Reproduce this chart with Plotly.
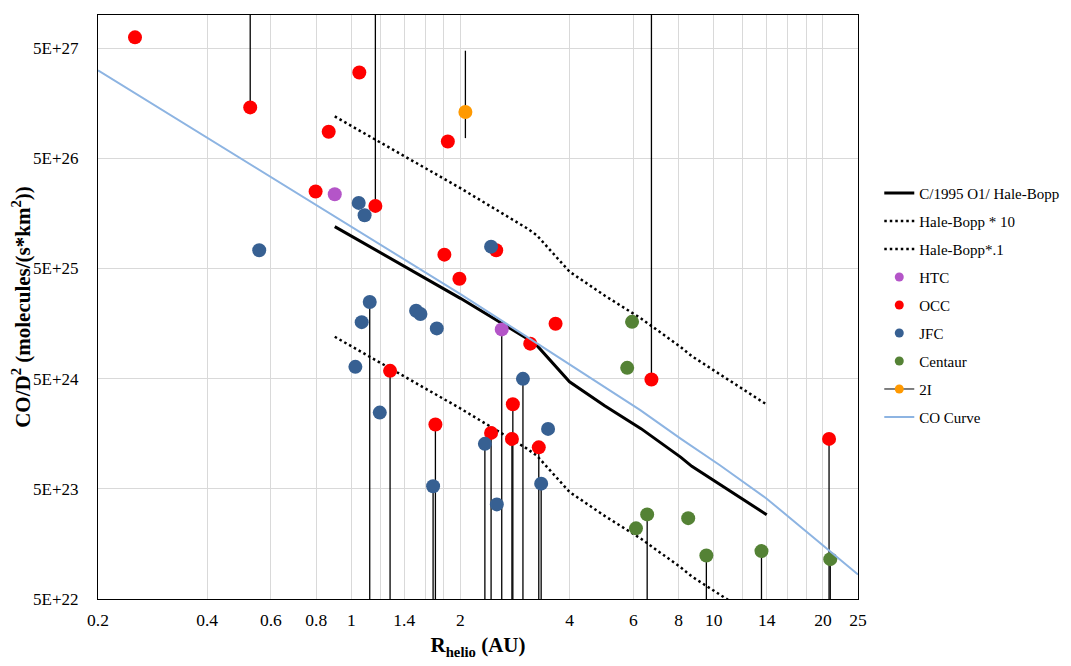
import plotly.graph_objects as go
import numpy as np

# Hale-Bopp reference curve
hb_x = [0.9, 2.0, 3.05, 3.25, 4.0, 5.0, 6.3, 8.1, 8.7, 14]
hb_y = [1.20e26, 2.68e25, 1.16e25, 1.00e25, 4.68e24, 2.84e24, 1.76e24, 9.7e23, 8.0e23, 2.91e23]
hb10_y = [1.20e27, 2.68e26, 1.16e26, 1.00e26, 4.68e25, 2.84e25, 1.76e25, 9.7e24, 8.0e24, 2.91e24]
hb01_y = [1.20e25, 2.68e24, 1.16e24, 1.00e24, 4.68e23, 2.84e23, 1.76e23, 9.7e22, 8.0e22, 2.91e22]

# CO sublimation curve
co_x = [0.2, 0.5, 1.0, 1.4, 2.0, 3.0, 4.0, 5.0, 6.27, 8.1, 10.4, 14.0, 19.3, 25]
co_y = [3.14e27, 4.89e26, 1.20e26, 6.04e25, 2.93e25, 1.24e25, 6.75e24, 4.2e24, 2.59e24,
        1.43e24, 8.18e23, 4.07e23, 1.70e23, 8.35e22]

# comets: x = Rhelio (AU), y = CO/D^2, lo/hi = ends of the error bars (None = no bar)
htc_x = [0.90, 2.60]
htc_y = [2.36e26, 1.40e25]
htc_lo = [None, 0]
htc_hi = [None, None]

occ_x = [0.253, 0.526, 0.797, 0.866, 1.052, 1.165, 1.279, 1.706, 1.806, 1.846,
         1.987, 2.43, 2.51, 2.774, 2.79, 3.116, 3.29, 3.66, 6.73, 20.8]
occ_y = [6.27e27, 1.45e27, 2.50e26, 8.71e26, 3.01e27, 1.85e26, 5.89e24, 1.92e24, 6.68e25, 7.10e26,
         4.04e25, 1.61e24, 7.32e25, 1.42e24, 2.93e24, 1.04e25, 1.19e24, 1.575e25, 4.92e24, 1.42e24]
occ_lo = [None, None, None, None, None, None, 0, 0, None, None,
          None, 0, None, 0, 0, None, 0, None, None, 0]
occ_hi = [None, 1e29, None, None, None, 1e29, None, None, None, None,
          None, None, None, None, None, None, None, None, 1e29, None]

jfc_x = [0.557, 1.026, 1.048, 1.068, 1.088, 1.124, 1.198, 1.509, 1.551, 1.681,
         1.721, 2.336, 2.43, 2.52, 2.975, 3.34, 3.49]
jfc_y = [7.32e25, 6.4e24, 1.97e26, 1.63e25, 1.52e26, 2.48e25, 2.46e24, 2.07e25, 1.93e25, 5.27e23,
         1.43e25, 1.28e24, 7.89e25, 3.61e23, 4.98e24, 5.57e23, 1.75e24]
jfc_lo = [None, None, None, None, None, 0, None, None, None, 0,
          None, 0, None, None, 0, 0, None]
jfc_hi = [None] * 17

cen_x = [5.77, 5.95, 6.10, 6.55, 8.50, 9.54, 13.54, 20.96]
cen_y = [6.27e24, 1.64e25, 2.19e23, 2.93e23, 2.71e23, 1.24e23, 1.36e23, 1.15e23]
cen_lo = [None, None, None, 0, None, 0, 0, 0]
cen_hi = [None] * 8

i2_x = [2.064]
i2_y = [1.315e27]
i2_lo = [7.63e26]
i2_hi = [4.74e27]

x_ticks = [0.2, 0.4, 0.6, 0.8, 1, 1.2, 1.4, 1.6, 1.8, 2, 4, 6, 8, 10, 12, 14, 16, 18, 20, 25]
x_labels = ["0.2", "0.4", "0.6", "0.8", "1", " ", "1.4", " ", " ", "2", "4", "6", "8", "10",
            " ", "14", " ", " ", "20", "25"]
y_ticks = [5e22, 5e23, 5e24, 5e25, 5e26, 5e27]
y_labels = ["5E+22", "5E+23", "5E+24", "5E+25", "5E+26", "5E+27"]

FONT = "Liberation Serif, Times New Roman, serif"


def err_bars(y, lo, hi):
    plus = [0 if h is None else h - v for v, h in zip(y, hi)]
    minus = [0 if l is None else v - l for v, l in zip(y, lo)]
    return dict(type="data", symmetric=False, array=plus, arrayminus=minus,
                color="black", thickness=1.3, width=0)


fig = go.Figure()

fig.add_trace(go.Scatter(x=hb_x, y=hb_y, mode="lines", name="C/1995 O1/ Hale-Bopp",
                         line=dict(color="black", width=3)))
fig.add_trace(go.Scatter(x=hb_x, y=hb10_y, mode="lines", name="Hale-Bopp * 10",
                         line=dict(color="black", width=2.5, dash="2.5px,3px")))
fig.add_trace(go.Scatter(x=hb_x, y=hb01_y, mode="lines", name="Hale-Bopp*.1",
                         line=dict(color="black", width=2.5, dash="2.5px,3px")))

groups = [
    ("HTC", htc_x, htc_y, htc_lo, htc_hi, "#B455C8"),
    ("OCC", occ_x, occ_y, occ_lo, occ_hi, "#FF0000"),
    ("JFC", jfc_x, jfc_y, jfc_lo, jfc_hi, "#376092"),
    ("Centaur", cen_x, cen_y, cen_lo, cen_hi, "#548235"),
]
for name, xs, ys, lo, hi, col in groups:
    fig.add_trace(go.Scatter(x=xs, y=ys, mode="markers", name=name, showlegend=False,
                             legendgroup=name, marker=dict(color=col, size=14),
                             error_y=err_bars(ys, lo, hi)))
    # smaller symbol for the legend, like the original
    fig.add_trace(go.Scatter(x=[None], y=[None], mode="markers", name=name,
                             legendgroup=name, marker=dict(color=col, size=9)))

fig.add_trace(go.Scatter(x=i2_x, y=i2_y, mode="markers", name="2I", showlegend=False,
                         legendgroup="2I", marker=dict(color="#FF9900", size=14),
                         error_y=err_bars(i2_y, i2_lo, i2_hi)))
fig.add_trace(go.Scatter(x=[None], y=[None], mode="lines+markers", name="2I",
                         legendgroup="2I", line=dict(color="black", width=1),
                         marker=dict(color="#FF9900", size=9)))

fig.add_trace(go.Scatter(x=co_x, y=co_y, mode="lines", name="CO Curve",
                         line=dict(color="#8DB4E2", width=2)))

for tr in fig.data:
    if tr.legendgroup is None:
        tr.legendgroup = tr.name

fig.update_xaxes(type="log", range=[np.log10(0.2), np.log10(25)],
                 tickvals=x_ticks, ticktext=x_labels, automargin=False,
                 showgrid=True, gridcolor="#D9D9D9", gridwidth=1,
                 showline=True, linecolor="black", linewidth=1, mirror=True,
                 ticks="", ticklabelstandoff=5,
                 tickfont=dict(family=FONT, size=17.5, color="black"),
                 title=dict(text="R<sub>helio</sub> (AU)", standoff=8,
                            font=dict(family=FONT, size=21, color="black", weight="bold")),
                 zeroline=False)
fig.update_yaxes(type="log", range=[np.log10(5e22), 28],
                 tickvals=y_ticks, ticktext=y_labels, automargin=False,
                 showgrid=True, gridcolor="#D9D9D9", gridwidth=1,
                 showline=True, linecolor="black", linewidth=1, mirror=True,
                 ticks="", ticklabelstandoff=15,
                 tickfont=dict(family=FONT, size=17, color="black"),
                 title=dict(text="CO/D<sup>2</sup> (molecules/(s*km<sup>2</sup>))", standoff=2,
                            font=dict(family=FONT, size=21, color="black", weight="bold")),
                 zeroline=False)

# the page body adds an 8px margin, so the figure is drawn 8px smaller and shifted
fig.update_layout(
    width=1063, height=658,
    margin=dict(l=90, r=213, t=7, b=67, autoexpand=False),
    plot_bgcolor="white", paper_bgcolor="white",
    showlegend=True,
    legend=dict(x=1.028, xanchor="left", y=0.503, yanchor="middle",
                font=dict(family=FONT, size=15, color="black"),
                tracegroupgap=5.5, bgcolor="rgba(0,0,0,0)"),
)

fig.write_html("out.html")
